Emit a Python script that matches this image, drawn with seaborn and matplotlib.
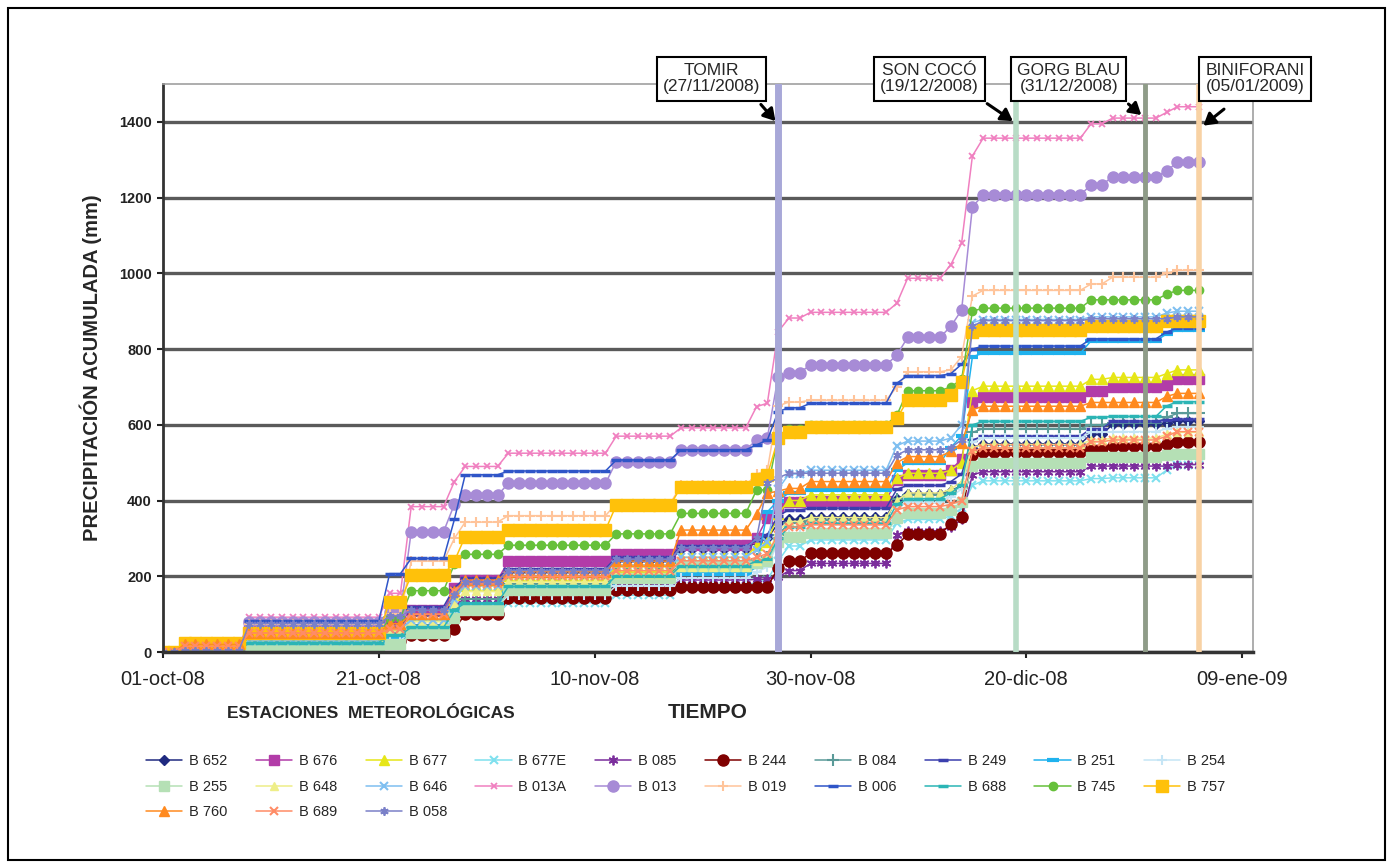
import numpy as np
import pandas as pd
import matplotlib
matplotlib.use('Agg')
import matplotlib.pyplot as plt
import seaborn as sns
from matplotlib.patches import Rectangle

# ++++++++++++++++++++++++++++++++++++++++++++++++++++ Datos
# dias desde el 01-oct-2008 en los que cambia la precipitacion acumulada
dias = [0, 2, 8, 21, 23, 27, 28, 32, 42, 48, 55, 56, 57, 58, 60, 68, 69, 73, 74, 75, 76, 86, 88, 93, 94]

b652 = [0, 3, 82, 95, 110, 160, 180, 212, 241, 273, 290, 300, 340, 350, 357, 405, 417, 425, 440, 540, 550, 575, 601, 605, 611]
b676 = [0, 3, 75, 80, 110, 170, 190, 239, 258, 282, 300, 355, 380, 395, 400, 455, 467, 480, 510, 660, 673, 690, 700, 705, 721]
b677 = [0, 2, 40, 70, 95, 150, 175, 200, 225, 250, 282, 290, 365, 400, 415, 460, 472, 480, 500, 690, 702, 720, 725, 735, 745]
b677e = [0, 0, 10, 25, 45, 80, 100, 130, 150, 175, 185, 190, 240, 280, 296, 340, 350, 360, 380, 440, 452, 458, 460, 480, 495]
b085 = [0, 0, 40, 70, 95, 125, 140, 160, 175, 190, 192, 192, 197, 215, 234, 310, 320, 330, 350, 468, 476, 491, 491, 491, 495]
b244 = [0, 0, 20, 30, 45, 60, 100, 142, 164, 172, 172, 172, 222, 240, 261, 282, 311, 339, 357, 520, 529, 540, 545, 550, 555]
b084 = [0, 1, 30, 50, 70, 115, 140, 180, 205, 235, 245, 250, 310, 340, 349, 405, 414, 425, 440, 580, 590, 600, 605, 620, 630]
b249 = [0, 2, 85, 100, 120, 170, 195, 220, 250, 280, 295, 310, 360, 375, 380, 430, 440, 450, 470, 560, 570, 590, 610, 612, 615]
b251 = [0, 1, 20, 40, 65, 100, 125, 155, 185, 205, 225, 370, 400, 420, 428, 480, 500, 540, 571, 780, 789, 822, 822, 840, 850]
b254 = [0, 1, 15, 30, 55, 100, 120, 150, 175, 195, 210, 225, 290, 310, 320, 380, 395, 410, 430, 555, 565, 580, 582, 590, 595]
b255 = [0, 0, 8, 20, 50, 90, 110, 164, 195, 226, 235, 240, 290, 305, 314, 355, 366, 375, 395, 490, 500, 515, 515, 520, 524]
b648 = [0, 2, 35, 55, 80, 130, 160, 185, 205, 225, 240, 250, 320, 345, 355, 400, 420, 430, 450, 540, 548, 560, 565, 575, 580]
b646 = [0, 2, 30, 60, 85, 140, 175, 200, 230, 250, 270, 290, 430, 470, 480, 545, 557, 565, 600, 870, 878, 885, 885, 895, 900]
b013a = [0, 5, 92, 155, 384, 450, 490, 525, 570, 592, 648, 657, 846, 882, 897, 921, 987, 1023, 1080, 1310, 1357, 1395, 1410, 1425, 1440]
b013 = [0, 3, 78, 105, 318, 390, 414, 445, 503, 534, 560, 566, 727, 738, 758, 784, 831, 860, 903, 1176, 1207, 1234, 1255, 1270, 1294]
b019 = [0, 3, 75, 100, 240, 300, 343, 360, 392, 440, 470, 480, 650, 660, 665, 700, 740, 745, 780, 940, 955, 972, 990, 1000, 1008]
b006 = [0, 3, 82, 207, 247, 350, 468, 478, 507, 534, 547, 560, 635, 645, 657, 710, 730, 735, 760, 800, 808, 827, 827, 845, 856]
b688 = [0, 2, 25, 45, 65, 110, 130, 173, 202, 228, 240, 245, 300, 330, 340, 390, 405, 420, 440, 600, 609, 620, 622, 650, 661]
b745 = [0, 2, 45, 90, 162, 232, 258, 282, 312, 366, 428, 428, 570, 590, 600, 625, 690, 700, 720, 900, 908, 930, 930, 945, 955]
b757 = [0, 25, 50, 133, 203, 240, 305, 322, 388, 436, 458, 467, 564, 582, 595, 617, 665, 680, 714, 845, 850, 862, 862, 875, 875]
b760 = [0, 20, 50, 75, 100, 160, 190, 212, 240, 322, 364, 419, 425, 432, 450, 500, 516, 530, 551, 640, 649, 659, 659, 675, 683]
b689 = [0, 15, 50, 60, 100, 160, 180, 200, 215, 241, 250, 260, 310, 330, 336, 375, 384, 390, 400, 530, 539, 555, 560, 570, 582]
b058 = [0, 2, 75, 95, 110, 150, 185, 215, 245, 275, 300, 445, 460, 472, 472, 520, 534, 540, 560, 860, 875, 880, 880, 880, 885]

estaciones = [
    ('B 652', b652), ('B 676', b676), ('B 677', b677), ('B 677E', b677e),
    ('B 085', b085), ('B 244', b244), ('B 084', b084), ('B 249', b249),
    ('B 251', b251), ('B 254', b254), ('B 255', b255), ('B 648', b648),
    ('B 646', b646), ('B 013A', b013a), ('B 013', b013), ('B 019', b019),
    ('B 006', b006), ('B 688', b688), ('B 745', b745), ('B 757', b757),
    ('B 760', b760), ('B 689', b689), ('B 058', b058),
]

tick_fechas = ['2008-10-01', '2008-10-21', '2008-11-10', '2008-11-30', '2008-12-20', '2009-01-09']
tick_textos = ['01-oct-08', '21-oct-08', '10-nov-08', '30-nov-08', '20-dic-08', '09-ene-09']

eventos = ['TOMIR\n(27/11/2008)', 'SON COCÓ\n(19/12/2008)', 'GORG BLAU\n(31/12/2008)', 'BINIFORANI\n(05/01/2009)']
fechas_eventos = ['2008-11-27', '2008-12-19', '2008-12-31', '2009-01-05']

# ++++++++++++++++++++++++++++++++++++++++++++++++++++ Estilos
asterisco = (6, 2, 0)
estilos = {
    'B 652': ('#1f2a80', 'D', 5, 1),
    'B 676': ('#b23ca8', 's', 7, 1),
    'B 677': ('#e6e617', '^', 7, 1),
    'B 677E': ('#7fe0ee', 'x', 6, 1.5),
    'B 085': ('#7b2e9c', asterisco, 7, 1.3),
    'B 244': ('#7f0000', 'o', 8, 1),
    'B 084': ('#5a9a98', '+', 8, 1.5),
    'B 249': ('#3b3fae', '_', 7, 2.5),
    'B 251': ('#1fb2ee', '_', 9, 3),
    'B 254': ('#c5e5f5', '+', 7, 1.5),
    'B 255': ('#b5e0b5', 's', 7, 1),
    'B 648': ('#eeee88', '^', 6, 1),
    'B 646': ('#7fbff0', 'x', 6, 1.5),
    'B 013A': ('#f080c0', 'x', 5, 1.3),
    'B 013': ('#a78bd6', 'o', 8, 1),
    'B 019': ('#ffc49a', '+', 7, 1.5),
    'B 006': ('#2f55c8', '_', 7, 2.5),
    'B 688': ('#2bb5b5', '_', 7, 2.5),
    'B 745': ('#66c03a', 'o', 6, 1),
    'B 757': ('#ffc10a', 's', 8, 1),
    'B 760': ('#ff8a1f', '^', 7, 1),
    'B 689': ('#ff8c66', 'x', 6, 1.5),
    'B 058': ('#7a80c8', asterisco, 6, 1.3),
}
colores_eventos = ['#a8a8d8', '#b8dcc6', '#8f9c88', '#f8d2a4']
anchos_eventos = [5, 4, 3.5, 4]

# ++++++++++++++++++++++++++++++++++++++++++++++++++++ Figura
sns.set_style('white')
plt.rcParams['font.family'] = ['Liberation Sans', 'DejaVu Sans']

inicio = pd.Timestamp('2008-10-01')
fechas = pd.date_range('2008-10-01', '2009-01-05', freq='D')
puntos = inicio + pd.to_timedelta(dias, unit='D')


def diario(valores):
    # precipitacion acumulada: se mantiene hasta el siguiente cambio
    s = pd.Series(valores, index=puntos, dtype=float)
    return s.reindex(fechas).ffill()


fig = plt.figure(figsize=(13.93, 8.67), dpi=100)
ax = fig.add_axes([163 / 1393, 1 - 652 / 867, 1090 / 1393, 568 / 867])

lineas = {}
for nombre, valores in estaciones:
    col, mk, ms, mew = estilos[nombre]
    sns.lineplot(x=fechas, y=diario(valores).values, ax=ax, color=col, marker=mk,
                 markersize=ms, markeredgecolor=col, markeredgewidth=mew,
                 lw=1.1, errorbar=None, label=nombre, legend=False, zorder=2)
    lineas[nombre] = ax.lines[-1]
if ax.get_legend() is not None:
    ax.get_legend().remove()

for f, c, w in zip(fechas_eventos, colores_eventos, anchos_eventos):
    ax.axvline(pd.Timestamp(f), color=c, lw=w, zorder=3)

ax.set_xlim(inicio, pd.Timestamp('2009-01-10'))
ax.set_ylim(0, 1500)
ax.set_yticks(range(0, 1401, 200))
ax.set_xticks(pd.to_datetime(tick_fechas))
ax.set_xticklabels(tick_textos, fontsize=14.5)
for t in ax.get_yticklabels():
    t.set_fontsize(10.5)
    t.set_fontweight('bold')
ax.tick_params(axis='y', length=4, width=1.5, pad=4, direction='out', left=True, colors='#222222')
ax.tick_params(axis='x', length=4, width=1.5, pad=9, direction='out', bottom=True, colors='#222222')

ax.yaxis.grid(True, color='#5a5a5a', lw=2.4)
ax.xaxis.grid(False)
ax.set_axisbelow(True)
ax.spines['left'].set_color('#333333')
ax.spines['left'].set_linewidth(2)
ax.spines['bottom'].set_color('#333333')
ax.spines['bottom'].set_linewidth(2.5)
for s in ['top', 'right']:
    ax.spines[s].set_color('#a0a0a0')
    ax.spines[s].set_linewidth(1.2)

ax.set_ylabel('PRECIPITACIÓN ACUMULADA (mm)', fontsize=14.5, fontweight='bold', labelpad=12)
ax.set_xlabel('TIEMPO', fontsize=15, fontweight='bold', labelpad=10)

# cuadros de las estaciones con flecha
cajas = [(0.503, 1.009, 0.92, 0.0, -0.25, 1402, 3),
         (0.703, 1.009, 0.95, 0.0, -0.25, 1402, 3),
         (0.831, 1.009, 0.97, 0.0, -0.35, 1418, 3),
         (1.002, 1.009, 0.37, 0.0, 0.4, 1390, 9)]
for texto, f, (bx, by, rx, ry, dx, yv, sa) in zip(eventos, fechas_eventos, cajas):
    punta = pd.Timestamp(f) + pd.Timedelta(days=dx)
    ax.annotate(texto, xy=(punta, yv), xycoords='data',
                xytext=(bx, by), textcoords='axes fraction',
                ha='center', va='center', fontsize=12.5, linespacing=1.1,
                bbox=dict(boxstyle='square,pad=0.35', fc='white', ec='black', lw=1.5),
                arrowprops=dict(arrowstyle='-|>,head_length=0.5,head_width=0.3',
                                color='black', lw=2.2, relpos=(rx, ry),
                                shrinkA=sa, shrinkB=0, mutation_scale=14),
                annotation_clip=False, zorder=5)

fig.text(371 / 1393, 1 - 713 / 867, 'ESTACIONES  METEOROLÓGICAS', ha='center', va='center',
         fontsize=12.5, fontweight='bold')

orden = ['B 652', 'B 255', 'B 760', 'B 676', 'B 648', 'B 689', 'B 677', 'B 646', 'B 058',
         'B 677E', 'B 013A', 'B 085', 'B 013', 'B 244', 'B 019', 'B 084', 'B 006',
         'B 249', 'B 688', 'B 251', 'B 745', 'B 254', 'B 757']
fig.legend([lineas[n] for n in orden], orden, ncol=10, loc='upper left',
           bbox_to_anchor=(146 / 1393, 1 - 754 / 867), frameon=False, fontsize=10.5,
           handlelength=2.5, handletextpad=0.45, columnspacing=1.95, labelspacing=0.8,
           borderpad=0, borderaxespad=0)

fig.add_artist(Rectangle((8 / 1393, 7 / 867), 1377 / 1393, 852 / 867, transform=fig.transFigure,
                         fill=False, ec='black', lw=1.5))

plt.savefig('out.png', dpi=100)
